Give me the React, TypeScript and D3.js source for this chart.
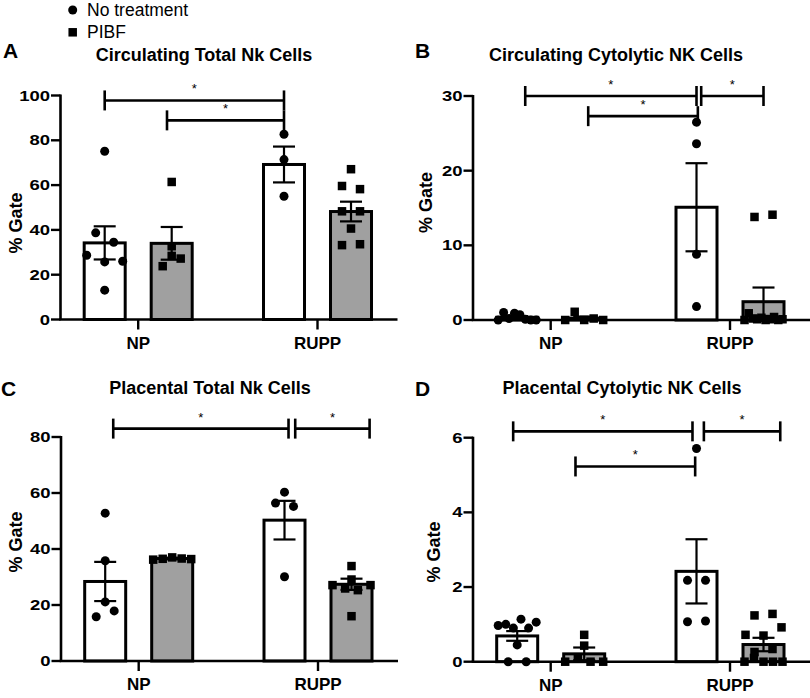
import React from "react";
import * as d3 from "d3";

// ---------- data ----------
const groups = ["NP", "RUPP"];
const seriesNames = ["No treatment", "PIBF"];
// bar order: NP-No treatment, NP-PIBF, RUPP-No treatment, RUPP-PIBF

const titleA = "Circulating Total Nk Cells";
const ticksA = [0, 20, 40, 60, 80, 100];
const meansA = [34.2, 34.0, 69.2, 48.2];
const semsA = [7.4, 7.3, 8.0, 4.4];
const pointsA = [
  [75.1, 38.7, 34.5, 28.7, 25.7, 26.0, 13.1],
  [61.4, 32.7, 28.4, 23.8, 27.2],
  [82.7, 71.4, 55.0],
  [67.1, 59.6, 58.2, 48.3, 48.3, 40.6, 33.2, 33.6],
];
// [from slot, to slot, y value]; slot = bar index (fraction = shift in bar spacings)
const bracketsA = [
  [0, 2, 97.8],
  [0.93, 2, 88.9],
];

const titleB = "Circulating Cytolytic NK Cells";
const ticksB = [0, 10, 20, 30];
const meansB = [0.36, 0.26, 15.1, 2.45];
const semsB = [0.15, 0.2, 5.9, 1.9];
const pointsB = [
  [0.0, 1.0, 0.2, 0.9, 0.7, 0.1, 0.0, 0.0],
  [0.0, 1.1, 0.0, 0.2, 0.0],
  [26.5, 23.6, 8.8, 1.8],
  [0.0, 0.9, 0.2, 0.1, 0.3, 0.0, 0.1, 0.4, 0.0, 0.1, 13.8, 14.1],
];
const bracketsB = [
  [0.12, 2, 30.0],
  [1.06, 2.02, 27.3],
  [2.07, 3, 30.0],
];

const titleC = "Placental Total Nk Cells";
const ticksC = [0, 20, 40, 60, 80];
const meansC = [28.4, 36.6, 50.3, 27.4];
const semsC = [7.0, 0.3, 6.9, 2.0];
const pointsC = [
  [52.8, 35.8, 15.8, 17.9, 21.1],
  [36.2, 36.5, 37.0, 36.6, 36.4],
  [60.3, 56.4, 55.2, 30.1],
  [33.9, 29.1, 27.1, 25.9, 25.3, 27.1, 16.0],
];
const bracketsC = [
  [0.12, 2.06, 83.0],
  [2.16, 3.27, 83.0],
];

const titleD = "Placental Cytolytic NK Cells";
const ticksD = [0, 2, 4, 6];
const meansD = [0.69, 0.21, 2.42, 0.46];
const semsD = [0.13, 0.17, 0.86, 0.18];
const pointsD = [
  [0.97, 1.0, 0.9, 1.14, 0.9, 1.06, 0.45, 0.0, 0.0],
  [0.0, 0.12, 0.0, 0.0, 0.43, 0.72],
  [5.71, 2.18, 2.18, 1.07, 1.09],
  [0.0, 0.1, 0.0, 0.0, 0.0, 0.26, 0.34, 0.72, 0.7, 0.92, 1.24, 1.28],
];
const bracketsD = [
  [-0.06, 1.94, 6.17],
  [2.11, 3.25, 6.17],
  [0.87, 1.98, 5.23],
];

// ---------- layout ----------
const FONT = "'Liberation Sans', Arial, Helvetica, sans-serif";
const GRAY = "#a0a0a0";
const AXIS_W = 337;
const PLOT_H = 224;

type PanelCfg = {
  letter: string;
  title: string;
  ticks: number[];
  means: number[];
  sems: number[];
  points: number[][];
  brackets: number[][];
  ox: number;
  oy: number;
  letterX: number;
  letterY: number;
  titleX: number;
  titleY: number;
  labelX: number;
  labelY: number;
};

const panels: PanelCfg[] = [
  { letter: "A", title: titleA, ticks: ticksA, means: meansA, sems: semsA, points: pointsA, brackets: bracketsA,
    ox: 60.5, oy: 319.5, letterX: 3, letterY: 58.3, titleX: 204, titleY: 60.5, labelX: 22, labelY: 223 },
  { letter: "B", title: titleB, ticks: ticksB, means: meansB, sems: semsB, points: pointsB, brackets: bracketsB,
    ox: 473, oy: 320, letterX: 415, letterY: 58.3, titleX: 616, titleY: 60.5, labelX: 432, labelY: 202.5 },
  { letter: "C", title: titleC, ticks: ticksC, means: meansC, sems: semsC, points: pointsC, brackets: bracketsC,
    ox: 61, oy: 661, letterX: 1, letterY: 395.7, titleX: 210, titleY: 394, labelX: 22, labelY: 542 },
  { letter: "D", title: titleD, ticks: ticksD, means: meansD, sems: semsD, points: pointsD, brackets: bracketsD,
    ox: 473, oy: 661.7, letterX: 415, letterY: 395.7, titleX: 622, titleY: 394, labelX: 440, labelY: 552 },
];

function layoutPoints(vals: number[], y: (v: number) => number) {
  const Smax = 18, Wmax = 38, T = 9.5;
  const idx = vals.map((_, i) => i).sort((a, b) => vals[a] - vals[b]);
  const rows: number[][] = [];
  let cur: number[] = [];
  let base = 0;
  for (const i of idx) {
    const py = y(vals[i]);
    if (cur.length && Math.abs(base - py) < T) cur.push(i);
    else {
      if (cur.length) rows.push(cur);
      cur = [i];
      base = py;
    }
  }
  if (cur.length) rows.push(cur);
  const off = new Array(vals.length).fill(0);
  for (const r of rows) {
    r.sort((a, b) => a - b);
    const n = r.length;
    const s = n > 1 ? Math.min(Smax, Wmax / (n - 1)) : 0;
    r.forEach((i, k) => (off[i] = (k - (n - 1) / 2) * s));
  }
  return off;
}

function Panel({ p }: { p: PanelCfg }) {
  const yMax = p.ticks[p.ticks.length - 1];
  const y = d3.scaleLinear().domain([0, yMax]).range([p.oy, p.oy - PLOT_H]);
  const xg = d3.scaleBand<string>().domain(groups).range([p.ox, p.ox + 334.7]).paddingInner(0.3).paddingOuter(0.0833);
  const xs = d3.scalePoint<string>().domain(seriesNames).range([-33.5, 33.5]);
  const slotStep = 67;
  const barX = (i: number) => (xg(groups[i >> 1]) as number) + xg.bandwidth() / 2 + (xs(seriesNames[i & 1]) as number);
  const slotX = (s: number) => {
    const i = Math.max(0, Math.min(3, Math.round(s)));
    return barX(i) + (s - i) * slotStep;
  };
  const barHalf = 20.5;
  const capHalf = 11;

  return (
    <g fontFamily={FONT}>
      <text x={p.letterX} y={p.letterY} fontSize={21} fontWeight="bold">{p.letter}</text>
      <text x={p.titleX} y={p.titleY} fontSize={18} fontWeight="bold" textAnchor="middle">{p.title}</text>
      <text transform={`translate(${p.labelX},${p.labelY}) rotate(-90)`} fontSize={18} fontWeight="bold" textAnchor="middle">% Gate</text>

      {/* bars */}
      {p.means.map((m, i) => (
        <rect key={"b" + i} x={barX(i) - barHalf} y={y(m)} width={barHalf * 2} height={p.oy - y(m)}
          fill={i % 2 === 0 ? "#ffffff" : GRAY} stroke="#000" strokeWidth={3} />
      ))}

      {/* error bars */}
      {p.means.map((m, i) => {
        const cx = barX(i);
        const t = y(m + p.sems[i]);
        const b = y(Math.max(0, m - p.sems[i]));
        return (
          <g key={"e" + i} stroke="#000" strokeWidth={2.2}>
            <line x1={cx} x2={cx} y1={t} y2={b} />
            <line x1={cx - capHalf} x2={cx + capHalf} y1={t} y2={t} />
            <line x1={cx - capHalf} x2={cx + capHalf} y1={b} y2={b} />
          </g>
        );
      })}

      {/* points */}
      {p.points.map((vals, i) => {
        const off = layoutPoints(vals, y);
        const cx = barX(i);
        return vals.map((v, k) =>
          i % 2 === 0 ? (
            <circle key={`p${i}-${k}`} cx={cx + off[k]} cy={y(v)} r={4.5} fill="#000" />
          ) : (
            <rect key={`p${i}-${k}`} x={cx + off[k] - 4.25} y={y(v) - 4.25} width={8.5} height={8.5} fill="#000" />
          )
        );
      })}

      {/* axes */}
      <line x1={p.ox} x2={p.ox} y1={p.oy} y2={y(yMax) - 1} stroke="#000" strokeWidth={2.6} />
      <line x1={p.ox - 1.3} x2={p.ox + AXIS_W} y1={p.oy} y2={p.oy} stroke="#000" strokeWidth={2.6} />
      {p.ticks.map((t) => (
        <g key={"t" + t}>
          <line x1={p.ox - 9.5} x2={p.ox} y1={y(t)} y2={y(t)} stroke="#000" strokeWidth={2.4} />
          <text transform={`translate(${p.ox - 10.5},${y(t) + 5}) scale(1.32,1)`} fontSize={14} fontWeight="bold" textAnchor="end">{t}</text>
        </g>
      ))}
      {groups.map((g) => {
        const cx = (xg(g) as number) + xg.bandwidth() / 2;
        return (
          <g key={"g" + g}>
            <line x1={cx} x2={cx} y1={p.oy} y2={p.oy + 10} stroke="#000" strokeWidth={2.4} />
            <text x={cx} y={p.oy + 29} fontSize={17} fontWeight="bold" textAnchor="middle">{g}</text>
          </g>
        );
      })}

      {/* significance brackets */}
      {p.brackets.map((br, k) => {
        const x1 = slotX(br[0]);
        const x2 = slotX(br[1]);
        const yy = y(br[2]);
        return (
          <g key={"br" + k} stroke="#000" strokeWidth={2.6}>
            <line x1={x1} x2={x2} y1={yy} y2={yy} />
            <line x1={x1} x2={x1} y1={yy - 10} y2={yy + 10} />
            <line x1={x2} x2={x2} y1={yy - 10} y2={yy + 10} />
            <text x={(x1 + x2) / 2} y={yy - 7} fontSize={13} textAnchor="middle" stroke="none" fill="#000">*</text>
          </g>
        );
      })}
    </g>
  );
}

export default function App() {
  return (
    <svg width={810} height={698} viewBox="0 0 810 698"
      style={{ position: "absolute", left: 0, top: 0, background: "#fff" }}>
      <rect x={0} y={0} width={810} height={698} fill="#fff" />
      <g fontFamily={FONT}>
        <circle cx={72.7} cy={10} r={4.5} fill="#000" />
        <text x={87} y={15.7} fontSize={17.5}>{seriesNames[0]}</text>
        <rect x={72.7 - 4.25} y={32.3 - 4.25} width={8.5} height={8.5} fill="#000" />
        <text x={87} y={37.5} fontSize={17.5}>{seriesNames[1]}</text>
      </g>
      {panels.map((p) => (
        <Panel key={p.letter} p={p} />
      ))}
    </svg>
  );
}
